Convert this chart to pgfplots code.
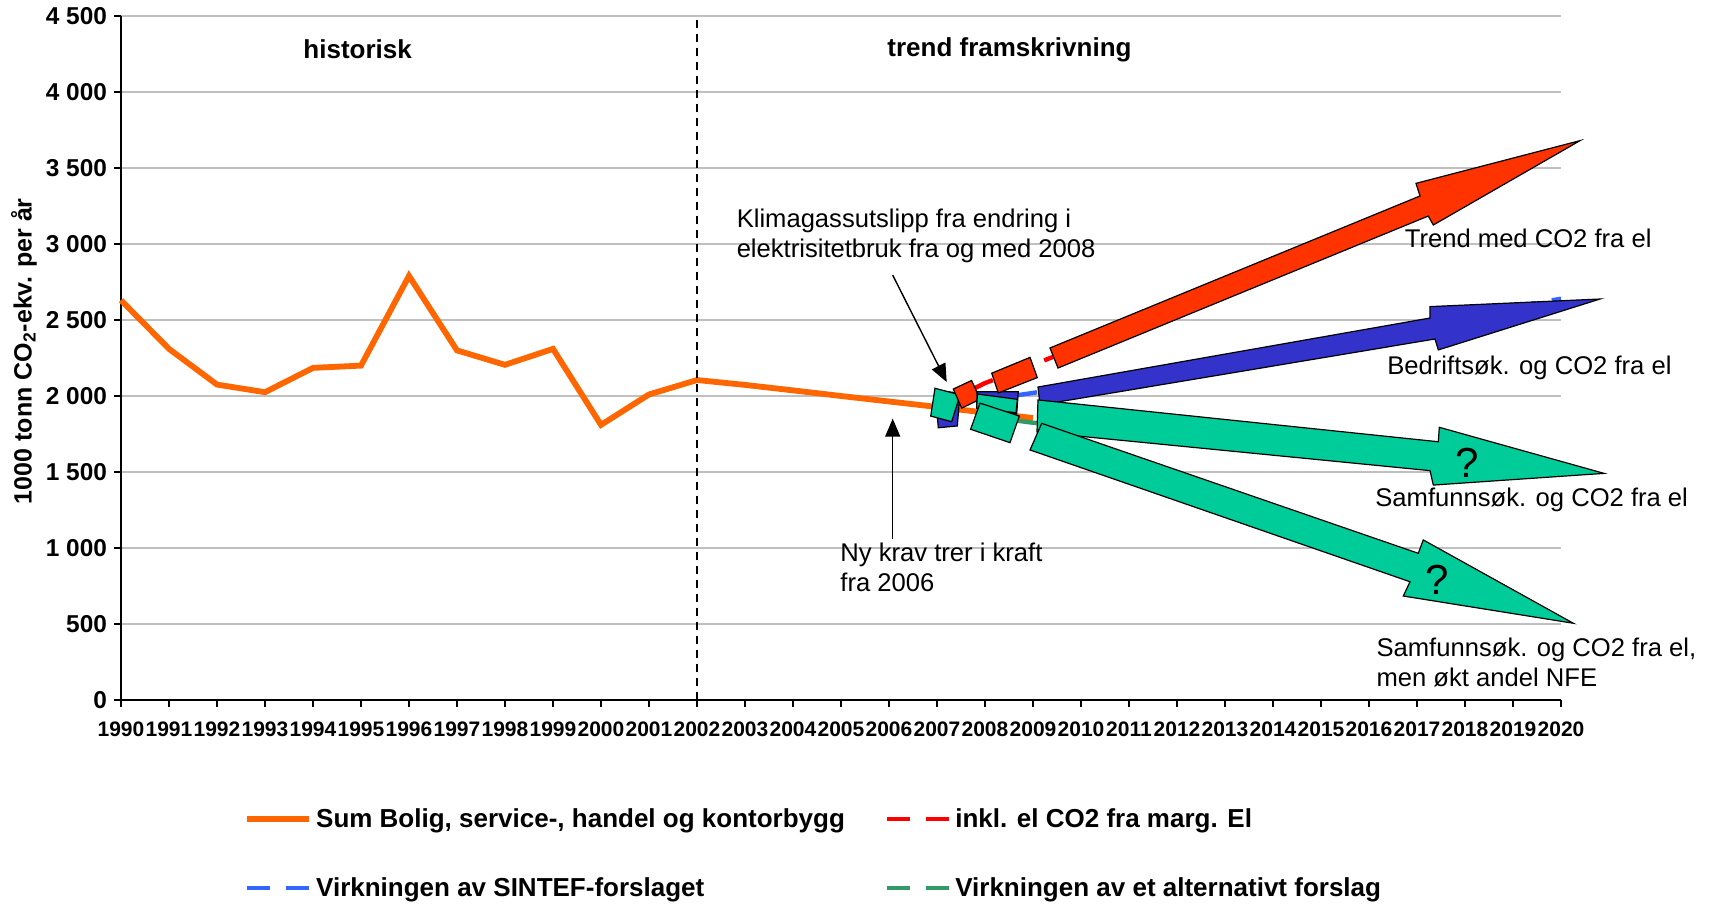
\documentclass[border=0pt]{standalone}
\usepackage{pgfplots}
\pgfplotsset{compat=1.18}
\usepackage{fontspec}
\setmainfont{Liberation Sans}
\usetikzlibrary{arrows.meta}
\definecolor{corange}{RGB}{255,102,0}
\definecolor{cred}{RGB}{255,0,0}
\definecolor{cblue}{RGB}{51,102,255}
\definecolor{cgreen}{RGB}{51,153,102}
\definecolor{fred}{RGB}{255,51,0}
\definecolor{fblue}{RGB}{51,51,204}
\definecolor{fgreen}{RGB}{0,204,153}
\definecolor{cgrid}{RGB}{192,192,192}
\newcommand{\fann}{\fontsize{12.8}{14.9}\selectfont}
\begin{document}
\begin{tikzpicture}
\useasboundingbox (0,0) rectangle (863pt,452.5pt);
\begin{axis}[
  at={(60.5pt,102.5pt)}, anchor=south west,
  scale only axis, width=720pt, height=342pt,
  xmin=1990, xmax=2020, ymin=0, ymax=4500,
  clip=false,
  axis x line*=bottom, axis y line*=left,
  axis line style={black, line width=0.8pt},
  xtick={1990,1991,...,2020},
  ytick={0,500,...,4500},
  yticklabels={0,500,1 000,1 500,2 000,2 500,3 000,3 500,4 000,4 500},
  tick align=outside, major tick length=3.5pt,
  tick style={black, line width=0.6pt},
  ymajorgrids, grid style={cgrid, line width=0.6pt},
  /pgf/number format/assume math mode=true,
  xticklabel style={font=\bfseries\fontsize{10.5}{12}\selectfont, /pgf/number format/1000 sep={}, inner xsep=0pt, yshift=-4pt},
  yticklabel style={font=\bfseries\fontsize{12.2}{14}\selectfont},
  ylabel={1000 tonn CO\textsubscript{2}-ekv. per år},
  ylabel style={font=\bfseries\fontsize{12.5}{14}\selectfont, at={(axis description cs:-0.0674,0.51)}, anchor=center},
  legend columns=2,
  legend style={draw=none, fill=none, inner sep=0pt,
    font=\bfseries\fontsize{13}{15}\selectfont,
    at={(axis description cs:0.0854,-0.152)}, anchor=north west,
    row sep=19.5pt,
    /tikz/every even column/.append style={column sep=18pt}},
  legend cell align=left,
  legend image code/.code={\draw[#1] (0pt,0pt) -- (31pt,0pt);},
]
% historical + trend
\addplot[corange, line width=2.9pt] coordinates {
(1990,2630) (1991,2310) (1992,2075) (1993,2025) (1994,2185) (1995,2200)
(1996,2790) (1997,2300) (1998,2205) (1999,2310) (2000,1810) (2001,2010)
(2002,2105) (2003,2073) (2004,2037) (2005,2000) (2006,1964) (2007,1928)
(2008,1891) (2009,1855)};
\addlegendentry{Sum Bolig, service-, handel og kontorbygg}
\addplot[cred, line width=2.2pt, dash pattern=on 11.5pt off 8pt] coordinates {
(2007,1928) (2008,2085) (2009,2205) (2010,2330) (2011,2460) (2012,2590)
(2013,2720) (2014,2850) (2015,2975) (2016,3105) (2017,3235) (2018,3365)
(2019,3490) (2020,3620)};
\addlegendentry{inkl. el CO2 fra marg. El}
\addplot[cblue, line width=2.2pt, dash pattern=on 11.5pt off 8pt] coordinates {
(2007,1928) (2008,1975) (2009,2020) (2010,2076) (2011,2133) (2012,2189)
(2013,2246) (2014,2302) (2015,2358) (2016,2415) (2017,2471) (2018,2528)
(2019,2584) (2020,2640)};
\addlegendentry{Virkningen av SINTEF-forslaget}
\addplot[cgreen, line width=2.2pt, dash pattern=on 11.5pt off 8pt] coordinates {
(2007,1928) (2008,1865) (2009,1824) (2010,1797) (2011,1771) (2012,1744)
(2013,1717) (2014,1690) (2015,1664) (2016,1637) (2017,1610) (2018,1584)
(2019,1557) (2020,1530)};
\addlegendentry{Virkningen av et alternativt forslag}
% divider 2002
\addplot[black, line width=1.1pt, dash pattern=on 4pt off 3pt, forget plot] coordinates {(2002,0) (2002,4500)};
% small boxes around 2007-2009
\addplot[fill=fblue, draw=black, line width=0.6pt, forget plot] coordinates {
(2006.958,2039) (2007.479,2018) (2007.423,1803) (2007.027,1791)} -- cycle;
\addplot[fill=fgreen, draw=black, line width=0.6pt, forget plot] coordinates {
(2006.958,2051) (2007.479,2007) (2007.306,1831) (2006.869,1868)} -- cycle;
\addplot[fill=fred, draw=black, line width=0.6pt, forget plot] coordinates {
(2007.340,2046) (2007.721,2102) (2007.896,1979) (2007.515,1920)} -- cycle;
\addplot[fill=fblue, draw=black, line width=0.6pt, forget plot] coordinates {
(2007.840,2028) (2008.694,2028) (2008.660,1882) (2007.827,1919)} -- cycle;
\addplot[fill=fgreen, draw=black, line width=0.6pt, forget plot] coordinates {
(2007.840,2013) (2008.674,1978) (2008.646,1890) (2007.827,1919)} -- cycle;
\addplot[fill=fgreen, draw=black, line width=0.6pt, forget plot] coordinates {
(2007.896,1953) (2008.715,1868) (2008.521,1693) (2007.700,1781)} -- cycle;
\addplot[fill=fred, draw=black, line width=0.6pt, forget plot] coordinates {
(2008.140,2150) (2008.938,2254) (2009.090,2121) (2008.277,2020)} -- cycle;
% big arrows
\addplot[fill=fred, draw=black, line width=0.6pt, forget plot] coordinates {
(2009.354,2316) (2017.063,3316) (2016.979,3399) (2020.396,3680)
(2017.340,3125) (2017.235,3184) (2009.521,2184)} -- cycle;
\addplot[fill=fblue, draw=black, line width=0.6pt, forget plot] coordinates {
(2009.104,2059) (2017.271,2513) (2017.271,2588) (2020.813,2638)
(2017.444,2303) (2017.375,2375) (2009.146,1941)} -- cycle;
\addplot[fill=fgreen, draw=black, line width=0.6pt, forget plot] coordinates {
(2009.104,1974) (2017.444,1699) (2017.465,1794) (2020.896,1491)
(2017.340,1414) (2017.271,1509) (2009.083,1763)} -- cycle;
\addplot[fill=fgreen, draw=black, line width=0.6pt, forget plot] coordinates {
(2009.181,1820) (2017.027,965) (2017.131,1053) (2020.256,505)
(2016.715,684) (2016.854,778) (2008.938,1645)} -- cycle;
% texts
\node[font=\bfseries\fontsize{13}{15}\selectfont] at (axis cs:1994.93,4280) {historisk};
\node[font=\bfseries\fontsize{13}{15}\selectfont] at (axis cs:2008.51,4280) {trend framskrivning};
\node[font=\fann, align=left, anchor=west, inner sep=0pt] at (axis cs:2002.82,3053) {Klimagassutslipp fra endring i\\elektrisitetbruk fra og med 2008};
\draw[black, line width=0.7pt, -{Triangle[length=9pt,width=7.5pt]}] (axis cs:2006.077,2795) -- (axis cs:2007.202,2092);
\node[font=\fann, align=left, anchor=west, inner sep=0pt] at (axis cs:2004.98,875) {Ny krav trer i kraft\\fra 2006};
\draw[black, line width=0.7pt, -{Triangle[length=9pt,width=7.5pt]}] (axis cs:2006.077,1056) -- (axis cs:2006.077,1851);
\node[font=\fann, anchor=west, inner sep=0pt] at (axis cs:2016.74,3034) {Trend med CO2 fra el};
\node[font=\fann, anchor=west, inner sep=0pt] at (axis cs:2016.375,2186) {Bedriftsøk. og CO2 fra el};
\node[font=\fann, anchor=west, inner sep=0pt] at (axis cs:2016.125,1317) {Samfunnsøk. og CO2 fra el};
\node[font=\fann, align=left, anchor=west, inner sep=0pt] at (axis cs:2016.15,245) {Samfunnsøk. og CO2 fra el,\\men økt andel NFE};
\node[font=\fontsize{21}{24}\selectfont] at (axis cs:2018.05,1563) {?};
\node[font=\fontsize{21}{24}\selectfont] at (axis cs:2017.43,789) {?};
\end{axis}
\end{tikzpicture}
\end{document}
